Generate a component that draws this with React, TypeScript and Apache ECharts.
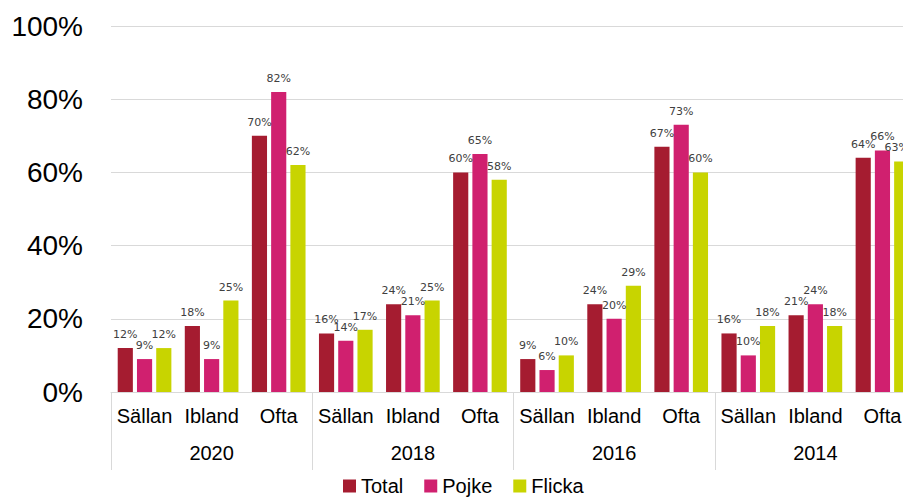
import React, { useEffect, useRef } from "react";
import * as echarts from "echarts";

const years = ["2020", "2018", "2016", "2014"];
const freq = ["Sällan", "Ibland", "Ofta"];
const categories = years.flatMap(() => freq);

const total = [12, 18, 70, 16, 24, 60, 9, 24, 67, 16, 21, 64];
const pojke = [9, 9, 82, 14, 21, 65, 6, 20, 73, 10, 24, 66];
const flicka = [12, 25, 62, 17, 25, 58, 10, 29, 60, 18, 18, 63];

const seriesNames = ["Total", "Pojke", "Flicka"];
const colors = ["#A51C30", "#D0206F", "#C8D400"];

export default function App() {
  const ref = useRef<HTMLDivElement>(null);
  useEffect(() => {
    if (!ref.current) return;
    const chart = echarts.init(ref.current, undefined, { renderer: "svg" });
    const values = [total, pojke, flicka];
    chart.setOption({
      animation: false,
      color: colors,
      grid: {
        left: 111,
        width: 805,
        top: 26,
        bottom: 110,
        containLabel: false,
        outerBoundsMode: "none",
      },
      legend: {
        left: 343,
        top: 475,
        icon: "rect",
        itemWidth: 13,
        itemHeight: 13,
        itemGap: 21,
        padding: 0,
        textStyle: { fontFamily: "Liberation Sans", fontSize: 20, lineHeight: 22, color: "#000" },
        data: seriesNames,
      },
      xAxis: [
        {
          type: "category",
          data: categories,
          position: "bottom",
          axisLine: { show: true, lineStyle: { color: "#d9d9d9", width: 1 } },
          axisTick: { show: false },
          axisLabel: {
            interval: 0,
            margin: 14,
            fontFamily: "Liberation Sans",
            fontSize: 20,
            color: "#000",
          },
        },
        {
          type: "category",
          data: years,
          position: "bottom",
          axisLine: { show: false },
          axisTick: { show: true, length: 78, lineStyle: { color: "#d9d9d9", width: 1 } },
          axisLabel: {
            interval: 0,
            margin: 51,
            fontFamily: "Liberation Sans",
            fontSize: 20,
            color: "#000",
          },
        },
      ],
      yAxis: {
        type: "value",
        min: 0,
        max: 100,
        interval: 20,
        axisLine: { show: false },
        axisTick: { show: false },
        splitLine: { lineStyle: { color: "#d9d9d9", width: 1 } },
        axisLabel: {
          formatter: "{value}%",
          margin: 28,
          fontFamily: "Liberation Sans",
          fontSize: 28,
          color: "#000",
        },
      },
      series: seriesNames.map((name, i) => ({
        name,
        type: "bar",
        xAxisIndex: 0,
        data: values[i].map((v, j) =>
          i === 2 && j === values[i].length - 1
            ? { value: v, label: { offset: [-5, 0] } }
            : v
        ),
        barCategoryGap: "20%",
        barGap: "27%",
        itemStyle: { color: colors[i] },
        label: {
          show: true,
          position: "top",
          distance: 8,
          formatter: "{c}%",
          fontFamily: "DejaVu Sans",
          fontSize: 11,
          color: "#404040",
        },
      })),
    });
    return () => chart.dispose();
  }, []);
  return (
    <div
      ref={ref}
      style={{ position: "fixed", left: 0, top: 0, width: 903, height: 502, background: "#fff" }}
    />
  );
}
